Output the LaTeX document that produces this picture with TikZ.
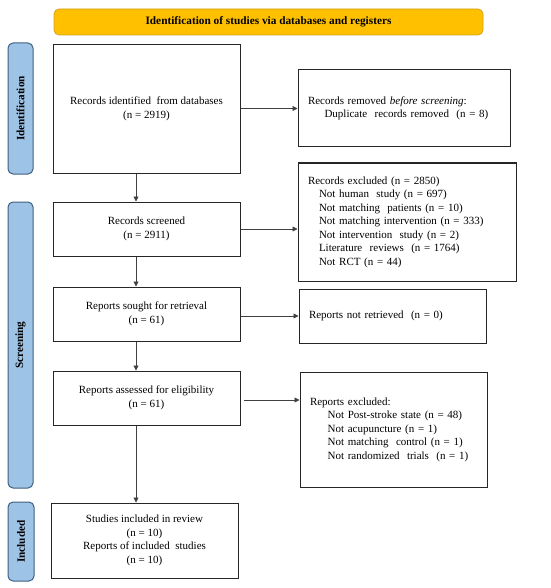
\documentclass[tikz,border=0pt]{standalone}
\usepackage{fontspec}
\setmainfont{Liberation Serif}
\usetikzlibrary{arrows.meta}
\definecolor{bannerfill}{HTML}{FFC000}
\definecolor{bannerline}{HTML}{D6A21E}
\definecolor{sidefill}{HTML}{9DC3E6}
\definecolor{sideline}{HTML}{3F5F7F}
\definecolor{boxline}{HTML}{262626}
\begin{document}
\begin{tikzpicture}[x=1pt,y=-1pt,
  every node/.style={font=\fontsize{11}{13.5}\selectfont},
  cbox/.style={draw=boxline, line width=1pt, align=center, inner sep=0pt},
  lbox/.style={draw=boxline, line width=1pt, align=left, inner ysep=0pt, inner xsep=10pt},
  side/.style={draw=sideline, fill=sidefill, line width=1pt, rounded corners=5pt, inner sep=0pt, minimum width=25pt},
  sidetext/.style={rotate=90, font=\fontsize{11.2}{12}\selectfont\bfseries},
  banner/.style={draw=bannerline, fill=bannerfill, line width=0.8pt, rounded corners=5pt, inner sep=0pt, font=\fontsize{11.3}{12}\selectfont\bfseries},
  arr/.style={draw=black!75, line width=0.8pt, -{Triangle[length=5pt,width=5pt]}}
]
\useasboundingbox (0,0) rectangle (550,588);

% banner
\node[banner, minimum width=429pt, minimum height=26pt] (banner) at (268.5,22) {Identification of studies via databases and registers};

% side bars
\node[side, minimum height=131pt] (sid) at (20.5,108.5) {};
\node[sidetext] (sidt) at (sid.center) {Identification};
\node[side, minimum height=286pt] (sscr) at (20.5,345) {};
\node[sidetext] (sscrt) at (sscr.center) {Screening};
\node[side, minimum height=79pt, minimum width=26pt] (sinc) at (21,541.5) {};
\node[sidetext] (sinct) at (sinc.center) {Included};

% left column
\node[cbox, minimum width=187pt, minimum height=128pt] (ident) at (146.5,109) {Records identified\ \ from databases\\(n = 2919)};
\node[cbox, minimum width=187pt, minimum height=54pt] (screen) at (146.5,229) {Records screened\\(n = 2911)};
\node[cbox, minimum width=187pt, minimum height=54pt] (sought) at (146.5,314) {Reports sought for retrieval\\(n = 61)};
\node[cbox, minimum width=187pt, minimum height=54pt] (assess) at (146.5,398) {Reports assessed for eligibility\\(n = 61)};
\node[cbox, minimum width=187pt, minimum height=75pt] (incl) at (144.5,540.5) {Studies included in review\\(n = 10)\\Reports of included\ \ studies\\(n = 10)};

% right column
\node[lbox, text width=192pt, minimum height=77pt] (removed) at (404,108.5) {Records removed \textit{before screening}:\\\hspace*{1.5em}Duplicate\ \ records removed\ \ (n = 8)};
\node[lbox, text width=198pt, minimum height=118pt] (excl) at (407,222) {Records excluded (n = 2850)\\\hspace*{1em}Not human\ \ study (n = 697)\\\hspace*{1em}Not matching\ \ patients (n = 10)\\\hspace*{1em}Not matching intervention (n = 333)\\\hspace*{1em}Not intervention\ \ study (n = 2)\\\hspace*{1em}Literature\ \ reviews\ \ (n = 1764)\\\hspace*{1em}Not RCT (n = 44)};
\node[lbox, text width=167pt, minimum height=54pt] (notret) at (392.5,316) {Reports not retrieved\ \ (n = 0)};
\node[lbox, text width=167pt, minimum height=115pt] (excl2) at (393.5,429.5) {Reports excluded:\\\hspace*{1.6em}Not Post-stroke state (n = 48)\\\hspace*{1.6em}Not acupuncture (n = 1)\\\hspace*{1.6em}Not matching\ \ control (n = 1)\\\hspace*{1.6em}Not randomized\ \ trials\ \ (n = 1)};

% connectors
\coordinate (ax) at (136,0);
\draw[arr] (ident.south -| ax) -- (screen.north -| ax);
\draw[arr] (screen.south -| ax) -- (sought.north -| ax);
\draw[arr] (sought.south -| ax) -- (assess.north -| ax);
\draw[arr] (assess.south -| ax) -- (incl.north -| ax);
\draw[arr] (ident.east |- removed.west) -- (removed.west);
\draw[arr] (screen.east) -- (screen.east -| excl.west);
\draw[arr] (sought.east |- notret.west) -- (notret.west);
\draw[arr] ([xshift=3pt]assess.east |- 0,400) -- (excl2.west |- 0,400);
\end{tikzpicture}
\end{document}
